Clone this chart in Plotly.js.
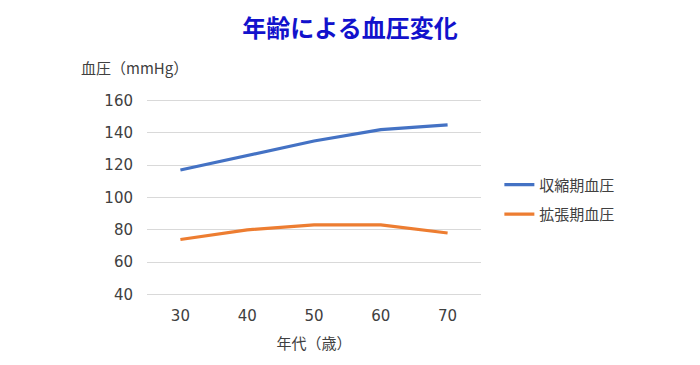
<!DOCTYPE html>
<html><head><meta charset="utf-8">
<script src="https://cdn.plot.ly/plotly-3.0.1.min.js"></script>
<style>body{margin:0}#chart{width:700px;height:365px}</style>
</head><body><div id="chart"></div>
<script>
const ages = ['30', '40', '50', '60', '70'];
const systolic = [117, 126, 135, 142, 145];
const diastolic = [74, 80, 83, 83, 78];
const seriesNames = ['収縮期血圧', '拡張期血圧'];
const yTicks = [40, 60, 80, 100, 120, 140, 160];

const font = 'DejaVu Sans, Noto Sans CJK JP, sans-serif';
const cjk = 'Noto Sans CJK JP, sans-serif';
const traces = [
  {x: ages, y: systolic, name: seriesNames[0], type: 'scatter', mode: 'lines',
   line: {color: '#4472C4', width: 3.2}, legendgroup: 'a'},
  {x: ages, y: diastolic, name: seriesNames[1], type: 'scatter', mode: 'lines',
   line: {color: '#ED7D31', width: 3.2}, legendgroup: 'b'}
];
const layout = {
  width: 700, height: 365,
  margin: {l: 147, r: 219, t: 99, b: 69},
  paper_bgcolor: '#fff', plot_bgcolor: '#fff',
  font: {family: font, size: 14, color: '#404040'},
  title: {text: '<b>年齢による血圧変化</b>', x: 0.5, xanchor: 'center', y: 0.923, yanchor: 'middle',
          font: {family: cjk, size: 24, color: '#1212CC'}},
  xaxis: {type: 'category', range: [-0.5, 4.5], showgrid: false, zeroline: false,
          showline: false, ticks: '', ticklabelstandoff: 9, tickfont: {size: 15, color: '#404040'},
          title: {text: '年代（歳）', standoff: 14, font: {family: cjk, size: 15, color: '#404040'}}},
  yaxis: {range: [39, 161], tickvals: yTicks, showgrid: true, gridcolor: '#D9D9D9', gridwidth: 1,
          zeroline: false, showline: false, ticks: '', ticklabelstandoff: 13,
          tickfont: {size: 15, color: '#404040'}},
  legend: {x: 1.055, xanchor: 'left', y: 0.49, yanchor: 'middle', traceorder: 'grouped',
           tracegroupgap: 7, font: {family: cjk, size: 15, color: '#404040'}, itemwidth: 30},
  annotations: [{text: '血圧（mmHg）', xref: 'paper', yref: 'paper', x: -0.205, xanchor: 'left',
                 y: 1.16, yanchor: 'middle', showarrow: false,
                 font: {family: cjk, size: 15, color: '#404040'}}]
};
Plotly.newPlot('chart', traces, layout, {displayModeBar: false});
</script></body></html>
